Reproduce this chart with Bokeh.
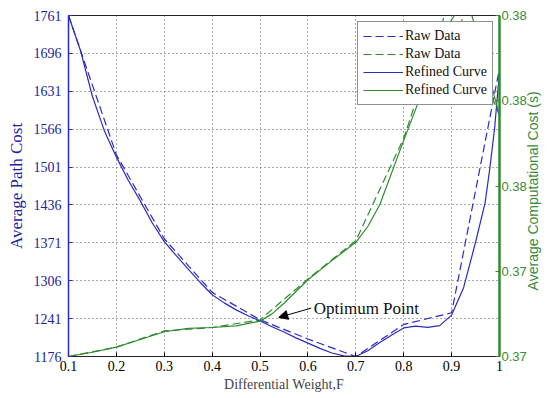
import numpy as np
from bokeh.plotting import figure
from bokeh.models import (Range1d, LinearAxis, FixedTicker, NumeralTickFormatter,
                          Arrow, NormalHead, Label, Legend, LegendItem)
from bokeh.embed import file_html
from bokeh.resources import INLINE

# ---------------- data ----------------
x_raw = [0.1, 0.2, 0.3, 0.4, 0.5, 0.6, 0.7, 0.8, 0.9, 1.0]
path_raw = [1761, 1522, 1378, 1286, 1239, 1206, 1176, 1231, 1251, 1670]
time_raw = [0.37200, 0.37222, 0.37260, 0.37268, 0.37286, 0.37382, 0.37472, 0.37712, 0.38050, 0.37765]

x_path_fit = [0.1, 0.125, 0.15, 0.175, 0.2, 0.225, 0.25, 0.275, 0.3, 0.325, 0.35, 0.375,
              0.4, 0.425, 0.45, 0.475, 0.5, 0.525, 0.55, 0.575, 0.6, 0.625, 0.65, 0.675,
              0.7, 0.725, 0.75, 0.775, 0.8, 0.825, 0.85, 0.875, 0.9, 0.925, 0.95, 0.97,
              0.98, 0.99, 1.0]
path_fit = [1761, 1701, 1622, 1563, 1518, 1478, 1443, 1405, 1373, 1349, 1326, 1303,
            1282, 1268, 1256, 1246, 1237, 1227, 1218, 1208, 1199, 1190, 1182, 1177,
            1176, 1186, 1200, 1213, 1225, 1228, 1226, 1229, 1247, 1294, 1372, 1440,
            1500, 1569, 1665]

x_time_fit = [0.1, 0.15, 0.2, 0.25, 0.3, 0.35, 0.4, 0.45, 0.5, 0.525, 0.55, 0.6, 0.65,
              0.7, 0.725, 0.75, 0.8, 0.83, 0.86, 0.89, 0.92, 0.94, 0.96, 0.98, 1.0]
time_fit = [0.37200, 0.37210, 0.37222, 0.37240, 0.37258, 0.37266, 0.37268, 0.37272,
            0.37283, 0.37300, 0.37325, 0.37380, 0.37425, 0.37468, 0.37505, 0.37556,
            0.37707, 0.37795, 0.37885, 0.37972, 0.38025, 0.38008, 0.37935, 0.37850, 0.37765]

x_ticks = [0.1, 0.2, 0.3, 0.4, 0.5, 0.6, 0.7, 0.8, 0.9, 1.0]
x_tick_labels = ["0.1", "0.2", "0.3", "0.4", "0.5", "0.6", "0.7", "0.8", "0.9", "1"]
path_ticks = [1176, 1241, 1306, 1371, 1436, 1501, 1566, 1631, 1696, 1761]
time_ticks = [0.372, 0.374, 0.376, 0.378, 0.380]

X_LABEL = "Differential Weight,F"
Y_LEFT_LABEL = "Average Path Cost"
Y_RIGHT_LABEL = "Average Computational Cost (s)"
OPT_TEXT = "Optimum Point"

BLUE = "#2b2bc4"
BLUE_TXT = "#22229a"
GREEN = "#2e8b2e"
GREEN_TXT = "#3a8a3a"
FONT = "Liberation Serif"
SANS = "Liberation Sans"

p = figure(width=551, height=398, output_backend="svg", toolbar_location=None,
           x_range=Range1d(0.1, 1.0), y_range=Range1d(1176, 1761),
           min_border_left=68, min_border_right=47, min_border_top=15, min_border_bottom=42,
           background_fill_color="white", border_fill_color="white")
p.extra_y_ranges = {"t": Range1d(0.372, 0.380)}

# grid
for g in (p.xgrid, p.ygrid):
    g.grid_line_color = "#555555"
    g.grid_line_dash = "1 3"
    g.grid_line_width = 1
p.xgrid.ticker = FixedTicker(ticks=x_ticks)
p.ygrid.ticker = FixedTicker(ticks=path_ticks)

p.outline_line_color = "#222222"
p.outline_line_width = 1

# x axis
xa = p.xaxis[0]
xa.ticker = FixedTicker(ticks=x_ticks)
xa.major_label_overrides = {t: l for t, l in zip(x_ticks, x_tick_labels)}
xa.axis_label = X_LABEL
xa.axis_label_text_font = FONT
xa.axis_label_text_font_style = "normal"
xa.axis_label_text_font_size = "14px"
xa.axis_label_standoff = 3
xa.major_label_text_font = FONT
xa.major_label_text_font_size = "14px"
xa.major_label_text_color = "black"
xa.major_label_standoff = 4
xa.major_tick_in = 4
xa.major_tick_out = 0
xa.minor_tick_line_color = None
xa.axis_line_color = "#222222"

# left axis
ya = p.yaxis[0]
ya.ticker = FixedTicker(ticks=path_ticks)
ya.axis_label = Y_LEFT_LABEL
ya.axis_label_text_font = FONT
ya.axis_label_text_font_style = "normal"
ya.axis_label_text_font_size = "17px"
ya.axis_label_text_color = BLUE_TXT
ya.axis_label_standoff = 5
ya.major_label_text_font = FONT
ya.major_label_text_font_size = "14px"
ya.major_label_text_color = BLUE_TXT
ya.major_label_standoff = 7
ya.major_tick_in = 4
ya.major_tick_out = 0
ya.major_tick_line_color = BLUE
ya.minor_tick_line_color = None
ya.axis_line_color = BLUE
ya.axis_line_width = 1.5

# right axis
ra = LinearAxis(y_range_name="t", ticker=FixedTicker(ticks=time_ticks),
                formatter=NumeralTickFormatter(format="0.00"))
ra.axis_label_text_font = SANS
ra.axis_label_text_font_style = "normal"
ra.axis_label_text_font_size = "14px"
ra.axis_label_text_color = GREEN_TXT
ra.axis_label_standoff = 3
if "axis_label_align" in ra.properties():
    # read bottom-to-top, anchored at the bottom of the axis, shifted up by padding
    ra.axis_label_orientation = np.pi / 2
    ra.axis_label_align = "start"
    ra.axis_label = "\u00a0" * 17 + Y_RIGHT_LABEL
else:
    ra.axis_label_orientation = "vertical"
    ra.axis_label = Y_RIGHT_LABEL
ra.major_label_text_font = SANS
ra.major_label_text_font_size = "13px"
ra.major_label_text_color = GREEN_TXT
ra.major_label_standoff = 2
ra.major_tick_in = 4
ra.major_tick_out = 0
ra.major_tick_line_color = GREEN
ra.minor_tick_line_color = None
ra.axis_line_color = GREEN
ra.axis_line_width = 2.5
p.add_layout(ra, "right")

# curves
r1 = p.line(x_raw, path_raw, line_color=BLUE, line_width=1.2, line_dash="8 4")
r2 = p.line(x_raw, time_raw, line_color=GREEN, line_width=1.2, line_dash="8 4", y_range_name="t")
r3 = p.line(x_path_fit, path_fit, line_color=BLUE, line_width=1.2)
r4 = p.line(x_time_fit, time_fit, line_color=GREEN, line_width=1.2, y_range_name="t")

legend = Legend(items=[LegendItem(label="Raw Data", renderers=[r1]),
                       LegendItem(label="Raw Data", renderers=[r2]),
                       LegendItem(label="Refined Curve", renderers=[r3]),
                       LegendItem(label="Refined Curve", renderers=[r4])],
                location="top_right")
legend.margin = 6
legend.padding = 5
legend.spacing = 0
legend.glyph_width = 40
legend.glyph_height = 18
legend.label_height = 18
legend.label_standoff = 2
legend.label_text_font = FONT
legend.label_text_font_size = "14px"
legend.label_text_color = "#111111"
legend.border_line_color = "#222222"
legend.border_line_width = 1
legend.background_fill_color = "white"
legend.background_fill_alpha = 1
p.add_layout(legend, "center")

# annotation
p.add_layout(Arrow(end=NormalHead(size=9, fill_color="black", line_color="black"),
                   x_start=0.607, y_start=1259, x_end=0.539, y_end=1243,
                   line_color="black", line_width=1))
p.add_layout(Label(x=0.612, y=1259, text=OPT_TEXT, text_font=FONT, text_font_size="17px",
                   text_baseline="middle", text_color="#111111"))

open("out.html", "w").write(file_html(p, INLINE))
